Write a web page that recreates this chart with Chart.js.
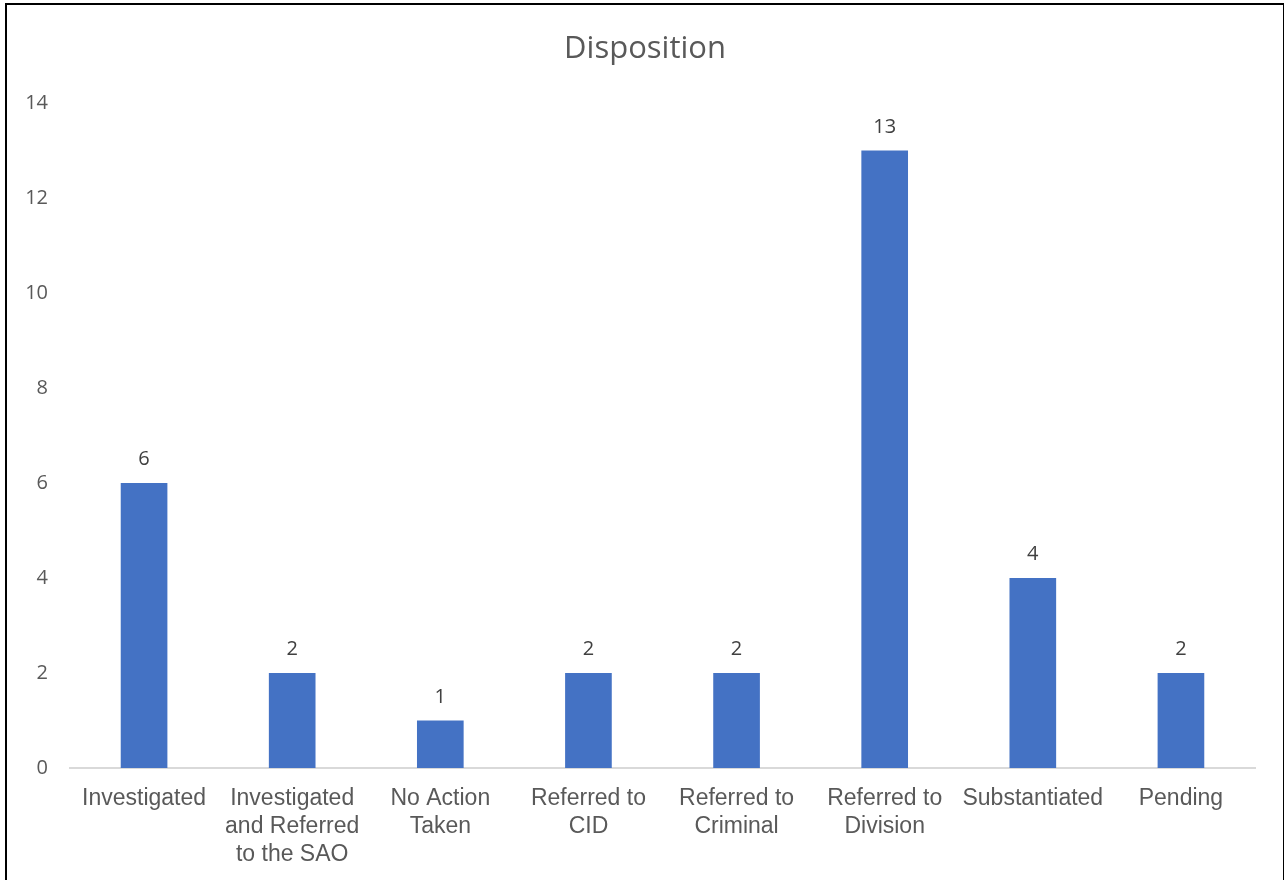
<!DOCTYPE html>
<html>
<head>
<meta charset="utf-8">
<script src="https://cdn.jsdelivr.net/npm/chart.js@4"></script>
<style>
  html, body { margin: 0; padding: 0; background: #fff; overflow: hidden; }
  #frame { position: absolute; left: 5px; top: 3px; width: 1276px; height: 900px; border: 2px solid #000; }
  #wrap { position: absolute; left: 0; top: 0; width: 1284px; height: 880px; }
</style>
</head>
<body>
<div id="frame"></div>
<div id="wrap"><canvas id="myChart" width="1284" height="880"></canvas></div>
<script>
const chartTitle = "Disposition";
const categories = [
    "Investigated",
    ["Investigated", "and Referred", "to the SAO"],
    ["No Action", "Taken"],
    ["Referred to", "CID"],
    ["Referred to", "Criminal"],
    ["Referred to", "Division"],
    "Substantiated",
    "Pending"
];
const counts = [6, 2, 1, 2, 2, 13, 4, 2];
const yTicks = [0, 2, 4, 6, 8, 10, 12, 14];

// title centred on the whole frame, not only on the plot
const titlePlugin = {
    id: 'titlePlugin',
    afterDraw(chart) {
        const ctx = chart.ctx;
        ctx.save();
        ctx.font = '31px "Open Sans", "Noto Sans", sans-serif';
        ctx.fillStyle = '#595959';
        ctx.textAlign = 'center';
        ctx.textBaseline = 'alphabetic';
        ctx.fillText(chartTitle, 645, 58);
        ctx.restore();
    }
};

// draws the value above each bar
const valueLabels = {
    id: 'valueLabels',
    afterDatasetsDraw(chart) {
        const ctx = chart.ctx;
        const meta = chart.getDatasetMeta(0);
        ctx.save();
        ctx.font = '20px "Open Sans", "Noto Sans", sans-serif';
        ctx.fillStyle = '#404040';
        ctx.textAlign = 'center';
        ctx.textBaseline = 'alphabetic';
        meta.data.forEach((bar, i) => {
            ctx.fillText(String(counts[i]), bar.x, bar.y - 18);
        });
        ctx.restore();
    }
};

const ctx = document.getElementById('myChart').getContext('2d');
new Chart(ctx, {
    type: 'bar',
    data: {
        labels: categories,
        datasets: [{
            label: chartTitle,
            data: counts,
            backgroundColor: '#4472C4',
            borderWidth: 0,
            categoryPercentage: 1,
            barPercentage: 0.315
        }]
    },
    options: {
        responsive: false,
        animation: false,
        layout: { padding: { left: 0, right: 29, top: 103, bottom: 0 } },
        plugins: {
            legend: { display: false },
            tooltip: { enabled: false },
            title: { display: false }
        },
        scales: {
            x: {
                grid: { display: false, drawTicks: false },
                border: { color: '#d9d9d9', width: 2 },
                ticks: {
                    color: '#595959',
                    font: { family: '"Liberation Sans", Arial, sans-serif', size: 23, lineHeight: 1.217 },
                    padding: 17,
                    maxRotation: 0,
                    autoSkip: false
                },
                afterFit(scale) { scale.height = 112; }
            },
            y: {
                min: 0,
                max: 14,
                afterBuildTicks(scale) {
                    scale.ticks = yTicks.map(v => ({ value: v }));
                },
                grid: { display: false, drawTicks: false },
                border: { display: false },
                ticks: {
                    color: '#595959',
                    font: { family: '"Open Sans", "Noto Sans", sans-serif', size: 20 },
                    padding: 22
                },
                afterFit(scale) { scale.width = 70; }
            }
        }
    },
    plugins: [valueLabels, titlePlugin]
});
</script>
</body>
</html>
